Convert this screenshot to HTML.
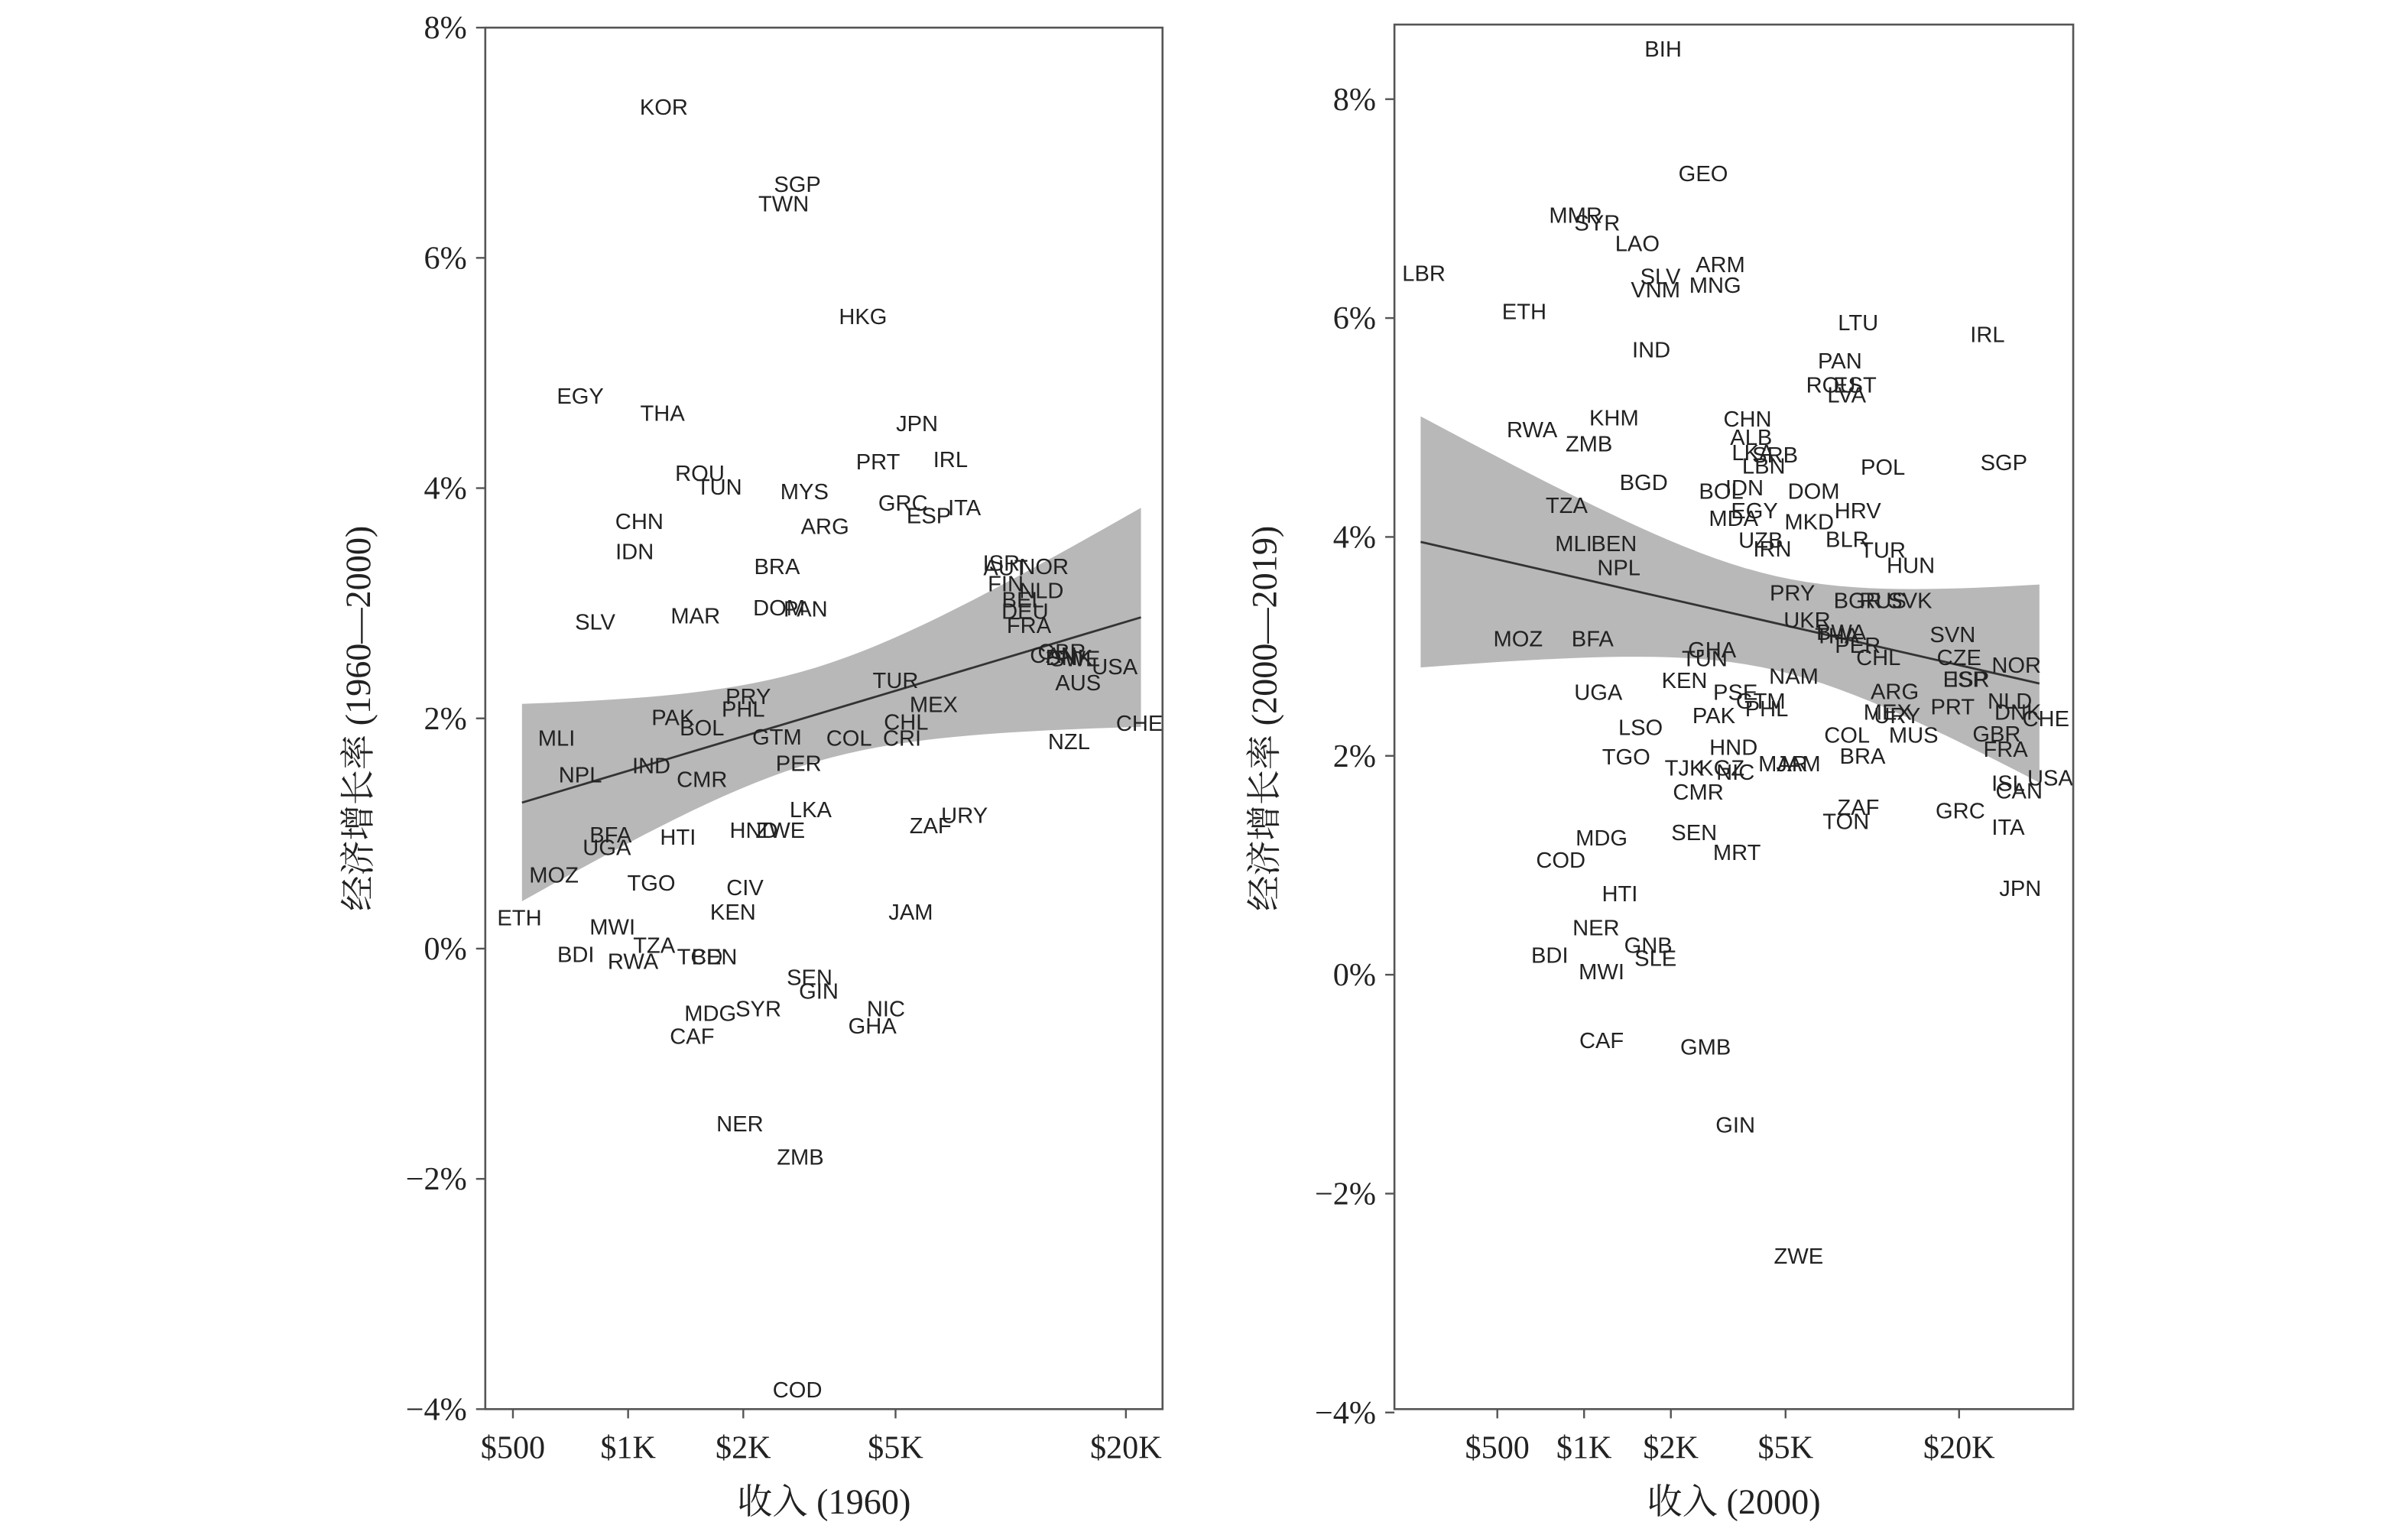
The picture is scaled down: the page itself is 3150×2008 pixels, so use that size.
<!DOCTYPE html>
<html><head><meta charset="utf-8"><style>
html,body{margin:0;padding:0;background:#fff}
svg{display:block}
.lab{font-family:"Liberation Sans",sans-serif;font-size:14.5px;fill:#222}
.tick{font-family:"Liberation Serif",serif;font-size:21px;fill:#222}
.title{font-family:"Liberation Serif","Noto Serif CJK SC",serif;font-size:23px;fill:#222}
</style></head><body>
<svg id="chart" width="3150" height="2008" viewBox="0 0 1568 1000" preserveAspectRatio="none" xmlns="http://www.w3.org/2000/svg"></svg>
<script>
// ---- Left panel data (income 1960, growth 1960-2000) ----
const leftCodes=["KOR","SGP","TWN","HKG","EGY","THA","JPN","PRT","IRL","ROU","TUN","MYS","GRC","ESP","ITA","CHN","ARG","IDN","BRA","ISR","AUT","NOR","FIN","NLD","BEL","DEU","MAR","DOM","PAN","FRA","SLV","CAN","SWE","GBR","DNK","USA","CHE","AUS","TUR","MEX","CHL","CRI","COL","PRY","PHL","PAK","BOL","GTM","MLI","NZL","NPL","IND","CMR","PER","LKA","ZAF","URY","HND","ZWE","BFA","UGA","HTI","MOZ","TGO","CIV","JAM","KEN","ETH","MWI","TZA","BDI","RWA","BEN","TCD","SEN","GIN","NIC","SYR","MDG","GHA","CAF","NER","ZMB","COD"];
const leftIncome=[1240,2770,2550,4110,750,1230,5690,4500,6960,1540,1730,2890,5230,6110,7570,1070,3270,1040,2450,9450,9700,12220,9700,12030,10760,10900,1500,2480,2910,11160,820,12930,14720,13600,14200,18700,21700,15000,5000,6290,5330,5200,3780,2060,2000,1310,1560,2450,650,14200,750,1150,1560,2790,3000,6170,7570,2130,2500,900,880,1350,640,1150,2020,5480,1880,520,910,1170,730,1030,1680,1540,2980,3150,4720,2190,1640,4350,1470,1960,2820,2770];
const leftGrowth=[7.31,6.64,6.47,5.49,4.8,4.65,4.56,4.23,4.25,4.13,4.01,3.97,3.87,3.76,3.83,3.71,3.67,3.45,3.32,3.35,3.31,3.32,3.17,3.11,3.03,2.93,2.89,2.96,2.95,2.81,2.84,2.55,2.52,2.58,2.53,2.45,1.96,2.31,2.33,2.12,1.97,1.83,1.83,2.19,2.08,2.01,1.92,1.84,1.83,1.8,1.51,1.59,1.47,1.61,1.21,1.07,1.16,1.03,1.03,0.99,0.88,0.97,0.64,0.57,0.53,0.32,0.32,0.27,0.19,0.03,-0.05,-0.11,-0.07,-0.07,-0.25,-0.37,-0.52,-0.52,-0.56,-0.67,-0.76,-1.52,-1.81,-3.83];
// ---- Right panel data (income 2000, growth 2000-2019) ----
const rightCodes=["BIH","GEO","MMR","SYR","LAO","ARM","SLV","VNM","MNG","LBR","ETH","LTU","IRL","IND","PAN","ROU","EST","LVA","RWA","KHM","CHN","ALB","ZMB","LKA","SRB","LBN","POL","SGP","BGD","BOL","IDN","DOM","TZA","HRV","EGY","MDA","MKD","UZB","IRN","BLR","MLI","BEN","TUR","HUN","NPL","PRY","BGR","RUS","SVK","UKR","BWA","THA","MOZ","BFA","SVN","GHA","PER","CHL","CZE","TUN","NOR","KEN","ESP","ISR","NAM","UGA","PSE","ARG","GTM","PHL","MEX","PRT","PAK","URY","LSO","COL","MUS","TGO","HND","TJK","KGZ","NIC","MAR","JAM","BRA","CHE","GBR","FRA","NLD","DNK","ISL","USA","CAN","CMR","ZAF","TON","GRC","ITA","MDG","SEN","MRT","COD","JPN","HTI","NER","GNB","SLE","BDI","MWI","CAF","GMB","GIN","ZWE"];
const rightIncome=[1880,2590,935,1110,1530,2970,1840,1770,2850,278,620,8930,25100,1710,7720,7180,8700,8150,660,1270,3690,3800,1040,3850,4600,4200,10880,28600,1610,2990,3600,6260,870,8900,3900,3300,6040,4100,4500,8180,920,1270,10880,13600,1320,5280,8900,10880,13500,5940,7800,7550,590,1070,19000,2780,8900,10500,20000,2620,31600,2230,21000,22000,5340,1120,3350,11960,4100,4300,11300,19000,2820,12200,1570,8170,13900,1400,3300,2230,3000,3350,4900,5540,9250,40000,27000,29000,30000,32000,29600,41400,32300,2490,8940,8100,20200,29600,1150,2410,3390,830,32600,1330,1100,1670,1770,760,1150,1150,2640,3350,5550];
const rightGrowth=[8.46,7.32,6.94,6.87,6.68,6.49,6.38,6.26,6.3,6.41,6.06,5.96,5.85,5.71,5.61,5.39,5.39,5.3,4.98,5.09,5.08,4.91,4.85,4.77,4.75,4.65,4.64,4.68,4.5,4.42,4.45,4.42,4.29,4.24,4.24,4.17,4.14,3.97,3.89,3.98,3.94,3.94,3.88,3.74,3.72,3.49,3.42,3.42,3.42,3.24,3.13,3.1,3.07,3.07,3.11,2.97,3.01,2.9,2.9,2.89,2.83,2.69,2.7,2.7,2.73,2.58,2.58,2.59,2.5,2.43,2.4,2.45,2.37,2.37,2.26,2.19,2.19,1.99,2.08,1.89,1.89,1.85,1.93,1.93,2.0,2.34,2.2,2.06,2.5,2.4,1.75,1.8,1.68,1.67,1.53,1.4,1.5,1.35,1.25,1.3,1.12,1.05,0.79,0.74,0.43,0.27,0.15,0.18,0.03,-0.6,-0.66,-1.37,-2.57];
// ---- tick labels ----
const leftYTicks=[8,6,4,2,0,-2,-4];
const rightYTicks=[8,6,4,2,0,-2,-4];
const xTickVals=[500,1000,2000,5000,20000];
const xTickLabels=["$500","$1K","$2K","$5K","$20K"];

const NS="http://www.w3.org/2000/svg";
const svg=document.getElementById("chart");
function mk(tag,attrs,parent){const e=document.createElementNS(NS,tag);for(const k in attrs)e.setAttribute(k,attrs[k]);(parent||svg).appendChild(e);return e;}

function panel(cfg){
  const g=mk("g",{});
  
  
  const xs=v=>cfg.x500+Math.log2(v/500)*cfg.perDouble;
  const ys=v=>cfg.y0-v*cfg.perPct;
  const n=cfg.inc.length;let mx=0,my=0;
  const lx=cfg.inc.map(v=>Math.log2(v));
  for(let i=0;i<n;i++){mx+=lx[i];my+=cfg.gr[i];}mx/=n;my/=n;
  let sxx=0,sxy=0;for(let i=0;i<n;i++){sxx+=(lx[i]-mx)**2;sxy+=(lx[i]-mx)*(cfg.gr[i]-my);}
  const b=sxy/sxx,a=my-b*mx;
  let sse=0;for(let i=0;i<n;i++){sse+=(cfg.gr[i]-a-b*lx[i])**2;}
  const s=Math.sqrt(sse/(n-2));
  const lo=Math.log2(cfg.bandFrom),hi=Math.log2(cfg.bandTo);
  const up=[],dn=[];
  for(let k=0;k<=40;k++){const L=lo+(hi-lo)*k/40;const f=a+b*L;const w=1.96*s*Math.sqrt(1/n+(L-mx)**2/sxx)*cfg.bandScale;
    const X=xs(Math.pow(2,L));up.push(X+","+ys(f+w));dn.unshift(X+","+ys(f-w));}
  const band=mk("polygon",{points:up.concat(dn).join(" "),fill:"#b8b8b8"},g);
  
  
  const fl=mk("line",{x1:xs(cfg.bandFrom),y1:ys(a+b*lo),x2:xs(cfg.bandTo),y2:ys(a+b*hi),stroke:"#333","stroke-width":1.4},g);
  
  
  for(let i=0;i<n;i++){
    const t=mk("text",{x:xs(cfg.inc[i]),y:ys(cfg.gr[i])+5,"text-anchor":"middle",class:"lab"},g);
    t.textContent=cfg.codes[i];
    
    
  }
  const fr=mk("rect",{x:cfg.bx0,y:cfg.by0,width:cfg.bx1-cfg.bx0,height:cfg.by1-cfg.by0,fill:"none",stroke:"#555","stroke-width":1.3},g);
  
  
  cfg.yt.forEach(v=>{
    const y=ys(v);
    mk("line",{x1:cfg.bx0-6,x2:cfg.bx0,y1:y,y2:y,stroke:"#555","stroke-width":1.2},g);
    const t=mk("text",{x:cfg.bx0-12,y:y+7,"text-anchor":"end",class:"tick"},g);
    t.textContent=(v<0?"\u2212"+(-v):v)+"%";
    
    
  });
  xTickVals.forEach((v,i)=>{
    const x=xs(v);
    mk("line",{x1:x,x2:x,y1:cfg.by1,y2:cfg.by1+6,stroke:"#555","stroke-width":1.2},g);
    const t=mk("text",{x:x,y:cfg.by1+32,"text-anchor":"middle",class:"tick"},g);
    t.textContent=xTickLabels[i];
    
    
  });
  const xt=mk("text",{x:(cfg.bx0+cfg.bx1)/2,y:986,"text-anchor":"middle",class:"title"},g);
  xt.textContent=cfg.xTitle;
  
  
  const yt=mk("text",{x:0,y:0,"text-anchor":"middle",class:"title",transform:`translate(${cfg.ytx},468) rotate(-90)`},g);
  yt.textContent=cfg.yTitle;
  
  
}
panel({name:"left-panel-1960",codes:leftCodes,inc:leftIncome,gr:leftGrowth,x500:334,perDouble:75,y0:618,perPct:75,
  bx0:316,bx1:757,by0:18,by1:918,yt:leftYTicks,bandFrom:528,bandTo:21900,bandScale:1.0,
  xTitle:"收入 (1960)",yTitle:"经济增长率 (1960—2000)",ytx:241});
panel({name:"right-panel-2000",codes:rightCodes,inc:rightIncome,gr:rightGrowth,x500:975,perDouble:56.5,y0:635,perPct:71.3,
  bx0:908,bx1:1350,by0:16,by1:918,yt:rightYTicks,bandFrom:271,bandTo:38000,bandScale:1.2,
  xTitle:"收入 (2000)",yTitle:"经济增长率 (2000—2019)",ytx:831});
</script>
</body></html>
